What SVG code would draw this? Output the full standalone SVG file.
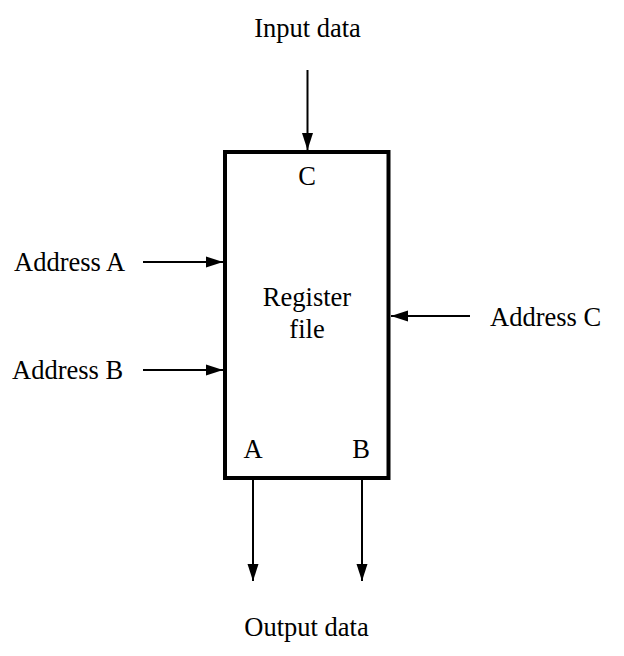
<svg xmlns="http://www.w3.org/2000/svg" width="624" height="656" viewBox="0 0 624 656">
<style>
text{font-family:"Liberation Serif","Times New Roman",serif;font-size:26.5px;fill:#000}
.c{text-anchor:middle}
.w{stroke:#000;stroke-width:2;fill:none}
</style>
<defs>
<marker id="ah" markerWidth="17" markerHeight="12" refX="17" refY="6" orient="auto" markerUnits="userSpaceOnUse">
<path d="M0,0.5 L17,6 L0,11.5 Z" fill="#000"/>
</marker>
</defs>
<rect width="624" height="656" fill="#fff"/>
<g id="regfile">
<rect x="225" y="152" width="163.5" height="326" fill="#fff" stroke="#000" stroke-width="4"/>
<text class="c" x="307" y="185">C</text>
<text class="c" x="307" y="306">Register</text>
<text class="c" x="307" y="338">file</text>
<text class="c" x="253" y="458">A</text>
<text class="c" x="361" y="458">B</text>
</g>
<g id="labels">
<text id="input" class="c" x="307.5" y="37">Input data</text>
<text id="addrA" x="14" y="271">Address A</text>
<text id="addrB" x="12" y="379">Address B</text>
<text id="addrC" x="490" y="326">Address C</text>
<text id="output" class="c" x="306.5" y="636">Output data</text>
</g>
<g id="connectors" class="w">
<line x1="307.5" y1="70" x2="307.5" y2="150" marker-end="url(#ah)"/>
<line x1="143" y1="262" x2="223" y2="262" marker-end="url(#ah)"/>
<line x1="143" y1="370" x2="223" y2="370" marker-end="url(#ah)"/>
<line x1="470" y1="316" x2="391" y2="316" marker-end="url(#ah)"/>
<line x1="253" y1="480" x2="253" y2="581" marker-end="url(#ah)"/>
<line x1="362" y1="480" x2="362" y2="581" marker-end="url(#ah)"/>
</g>
</svg>
